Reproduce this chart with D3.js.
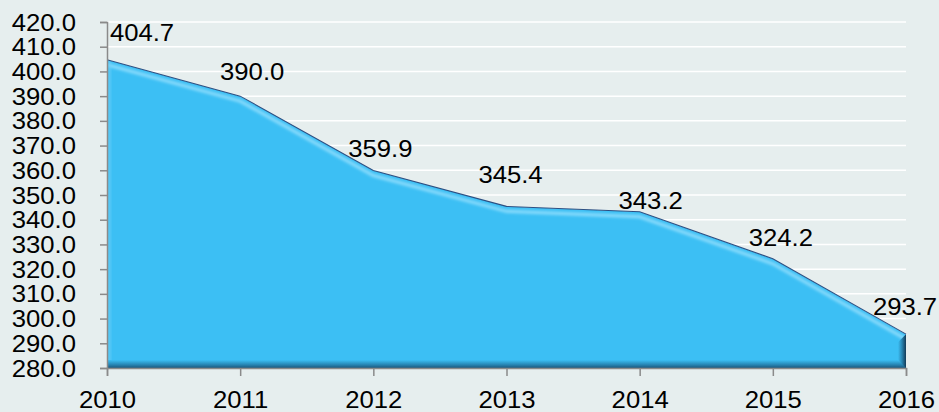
<!DOCTYPE html>
<html>
<head>
<meta charset="utf-8">
<script src="https://cdn.jsdelivr.net/npm/d3@7"></script>
<style>
  body { margin: 0; background: #e6eeee; }
  svg text { font-family: "Liberation Sans", Arial, sans-serif; fill: #000; }
</style>
</head>
<body>
<div id="chart"></div>
<script>
// data
const years = ["2010", "2011", "2012", "2013", "2014", "2015", "2016"];
const values = [404.7, 390.0, 359.9, 345.4, 343.2, 324.2, 293.7];
const yTicks = [280, 290, 300, 310, 320, 330, 340, 350, 360, 370, 380, 390, 400, 410, 420];

// label nudges (px) to follow the hand-placed labels of the original
const labelDx = [35, 12, 7, 4, 11, 8, -1];
const labelDy = [-19, -16, -14, -23, -3, -13, -19];

const width = 939, height = 412;
const plotLeft = 107, plotRight = 906, plotTop = 22, plotBottom = 368;
const fontSize = 24, stretch = 1.07;

const svg = d3.select("#chart").append("svg")
    .attr("width", width)
    .attr("height", height);

svg.append("rect")
    .attr("width", width).attr("height", height)
    .attr("fill", "#e6eeee");

const x = d3.scalePoint().domain(years).range([plotLeft, plotRight]);
const y = d3.scaleLinear().domain([280, 420]).range([plotBottom, plotTop]);

// gridlines
svg.append("g")
    .selectAll("line")
    .data(yTicks.slice(1))
    .enter()
    .append("line")
    .attr("x1", plotLeft).attr("x2", plotRight)
    .attr("y1", d => y(d)).attr("y2", d => y(d))
    .attr("stroke", "#fff")
    .attr("stroke-width", 1.5);

const pts = years.map((yr, i) => ({ year: yr, value: values[i] }));

const area = d3.area()
    .x(d => x(d.year))
    .y0(y(280))
    .y1(d => y(d.value));

const topLine = d3.line()
    .x(d => x(d.year))
    .y(d => y(d.value));

const defs = svg.append("defs");

defs.append("clipPath").attr("id", "areaClip")
    .append("path").attr("d", area(pts));

defs.append("filter").attr("id", "blur2")
    .attr("x", "-10%").attr("y", "-10%").attr("width", "120%").attr("height", "120%")
    .append("feGaussianBlur").attr("stdDeviation", 1.5);

const gBottom = defs.append("linearGradient").attr("id", "bottomShade")
    .attr("x1", 0).attr("y1", 0).attr("x2", 0).attr("y2", 1);
gBottom.append("stop").attr("offset", "0%").attr("stop-color", "#3cbff4");
gBottom.append("stop").attr("offset", "55%").attr("stop-color", "#2889b8");
gBottom.append("stop").attr("offset", "100%").attr("stop-color", "#1a577c");

const gRight = defs.append("linearGradient").attr("id", "rightShade")
    .attr("x1", 0).attr("y1", 0).attr("x2", 1).attr("y2", 0);
gRight.append("stop").attr("offset", "0%").attr("stop-color", "#3cbff4");
gRight.append("stop").attr("offset", "50%").attr("stop-color", "#2783b0");
gRight.append("stop").attr("offset", "100%").attr("stop-color", "#123a57");

const shape = svg.append("g").attr("clip-path", "url(#areaClip)");

shape.append("path")
    .attr("d", area(pts))
    .attr("fill", "#3cbff4");

// light stripe under the top edge
shape.append("path")
    .attr("d", topLine(pts))
    .attr("transform", "translate(0,5)")
    .attr("fill", "none")
    .attr("stroke", "#90defd")
    .attr("stroke-width", 3)
    .attr("filter", "url(#blur2)");

// left edge highlight
shape.append("rect")
    .attr("x", plotLeft).attr("y", plotTop)
    .attr("width", 4).attr("height", plotBottom - plotTop)
    .attr("fill", "#6fd0f8")
    .attr("opacity", 0.6)
    .attr("filter", "url(#blur2)");

// bottom and right bevel
const bevel = 8;
shape.append("rect")
    .attr("x", plotLeft).attr("y", plotBottom - bevel)
    .attr("width", plotRight - plotLeft).attr("height", bevel)
    .attr("fill", "url(#bottomShade)");

const lastY = y(values[values.length - 1]);
shape.append("path")
    .attr("d", `M${plotRight - bevel},${lastY + bevel}L${plotRight},${lastY}L${plotRight},${plotBottom}L${plotRight - bevel},${plotBottom - bevel}Z`)
    .attr("fill", "url(#rightShade)");

// dark top outline
svg.append("path")
    .attr("d", topLine(pts))
    .attr("fill", "none")
    .attr("stroke", "#2c4f82")
    .attr("stroke-width", 1.1);

// axes
const yAxis = svg.append("g")
    .attr("transform", `translate(${plotLeft},0)`)
    .call(d3.axisLeft(y).tickValues(yTicks).tickSize(7).tickFormat(d3.format(".1f")));

const xAxis = svg.append("g")
    .attr("transform", `translate(0,${plotBottom})`)
    .call(d3.axisBottom(x).tickSize(8));

[yAxis, xAxis].forEach(ax => {
    ax.select(".domain").attr("stroke", "#8a8a8a").attr("stroke-width", 1.5);
    ax.selectAll(".tick line").attr("stroke", "#8a8a8a").attr("stroke-width", 1.5);
    ax.selectAll("text").attr("font-size", fontSize).attr("font-family", null);
});

yAxis.selectAll(".tick text")
    .attr("x", null).attr("dy", null)
    .attr("transform", `translate(-31,8) scale(${stretch},1)`);

xAxis.selectAll(".tick text")
    .attr("y", null).attr("dy", null)
    .attr("transform", `translate(0,40) scale(${stretch},1)`);

// data labels
svg.append("g")
    .selectAll("text")
    .data(pts)
    .enter()
    .append("text")
    .attr("text-anchor", "middle")
    .attr("font-size", fontSize)
    .attr("transform", (d, i) =>
        `translate(${x(d.year) + labelDx[i]},${y(d.value) + labelDy[i]}) scale(${stretch},1)`)
    .text(d => d.value.toFixed(1));
</script>
</body>
</html>
